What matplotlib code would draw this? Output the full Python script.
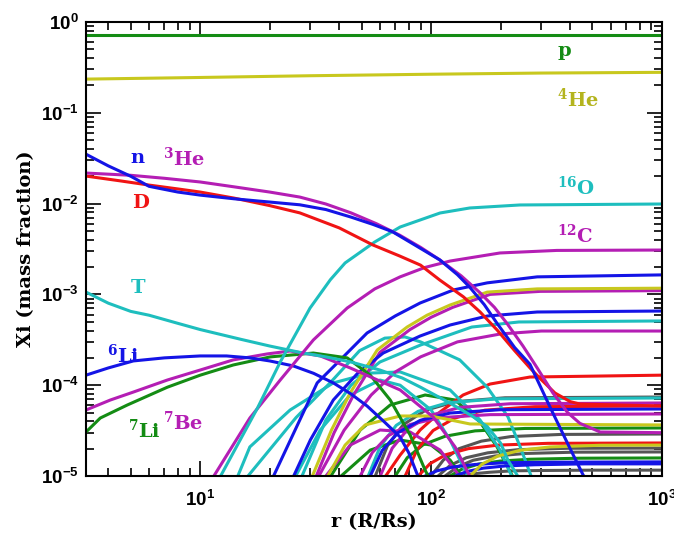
import math
import matplotlib
matplotlib.use("Agg")
import matplotlib.pyplot as plt
from matplotlib.ticker import LogLocator, FuncFormatter, NullFormatter

plt.rcParams["mathtext.fontset"] = "custom"
plt.rcParams["mathtext.rm"] = "DejaVu Serif:bold"
plt.rcParams["mathtext.bf"] = "DejaVu Serif:bold"
plt.rcParams["mathtext.sf"] = "Liberation Sans:bold"

BLUE = "#1414e6"
RED = "#f01414"
MAGENTA = "#b41eb4"
CYAN = "#1ebebe"
GREEN = "#148c14"
YELLOW = "#c8c81e"
GRAY = "#555555"

# ---- labelled species: radius r (R/Rs) and mass fraction X ----
r_p = [3.2, 30, 1000]
x_p = [0.72, 0.72, 0.72]

r_he4 = [3.2, 10, 30, 100, 300, 1000]
x_he4 = [0.235, 0.245, 0.256, 0.266, 0.274, 0.279]

r_n = [3.2, 4, 5, 6, 8, 10, 14, 20, 27, 35, 45, 56, 68, 85, 109, 130, 147,
       170, 193, 230, 268, 330, 400, 455, 500]
x_n = [0.035, 0.026, 0.020, 0.0155, 0.0134, 0.0124, 0.0113, 0.0104, 0.0097,
       0.0086, 0.0071, 0.0059, 0.0049, 0.0035, 0.0024, 0.00165, 0.0012,
       7.7e-4, 4.8e-4, 2.6e-4, 1.7e-4, 5.5e-5, 2.0e-5, 1.03e-5, 7e-6]

r_he3 = [3.2, 5, 7, 10, 14, 20, 27, 35, 45, 58, 73, 90, 109, 135, 163, 188,
         213, 250, 288, 337, 390, 441, 540, 1000]
x_he3 = [0.0217, 0.0205, 0.019, 0.0173, 0.0153, 0.0134, 0.0118, 0.0099,
         0.0079, 0.006, 0.0045, 0.0033, 0.0024, 0.0016, 0.00104, 7.2e-4,
         4.8e-4, 2.7e-4, 1.55e-4, 8.2e-5, 5e-5, 3.8e-5, 3.05e-5, 3.0e-5]

r_d = [3.2, 4.5, 6, 8, 10, 14, 20, 27, 40, 56, 73, 90, 109, 138, 163, 193,
       230, 268, 300, 344, 400, 441, 1000]
x_d = [0.0201, 0.0178, 0.016, 0.0145, 0.0134, 0.0115, 0.0095, 0.0079,
       0.0054, 0.0035, 0.00265, 0.0021, 0.00144, 9.4e-4, 6.4e-4, 4.06e-4,
       2.4e-4, 1.55e-4, 1.15e-4, 8.2e-5, 6.6e-5, 6.2e-5, 5.9e-5]

r_t = [3.2, 4, 5, 6, 8, 10, 15, 20, 27, 35, 45, 60, 75, 90, 120, 150, 175,
       200, 215, 240]
x_t = [1.06e-3, 8e-4, 6.5e-4, 5.9e-4, 4.8e-4, 4.1e-4, 3.2e-4, 2.7e-4,
       2.3e-4, 2.05e-4, 1.8e-4, 1.47e-4, 1.2e-4, 9.5e-5, 6.4e-5, 4.6e-5,
       3.5e-5, 2.3e-5, 1.5e-5, 9.5e-6]

r_li6 = [3.2, 4, 5.13, 7, 10, 13, 16.4, 20, 25.3, 31, 37.7, 45, 52.8, 63,
         73.4, 80, 87.9, 91.4]
x_li6 = [1.29e-4, 1.55e-4, 1.85e-4, 2.0e-4, 2.1e-4, 2.1e-4, 2.0e-4, 1.85e-4,
         1.63e-4, 1.35e-4, 1.06e-4, 8e-5, 5.9e-5, 3.9e-5, 2.69e-5, 1.8e-5,
         9.8e-6, 7.1e-6]

r_li7 = [3.2, 3.69, 4.83, 7.2, 10, 13.9, 20.1, 30.9, 43.3, 54.5, 66.5,
         81.1, 94.2, 100]
x_li7 = [3.05e-5, 4.35e-5, 6.05e-5, 9.5e-5, 1.29e-4, 1.67e-4, 2.05e-4,
         2.26e-4, 2.0e-4, 1.29e-4, 6.87e-5, 2.83e-5, 1.16e-5, 8.6e-6]

r_be7 = [3.2, 4.08, 5.13, 7.2, 10, 13.9, 19.5, 24.5, 33.1, 44.6, 73.4,
         102, 127, 147.4, 155]
x_be7 = [5.33e-5, 6.87e-5, 8.4e-5, 1.14e-4, 1.47e-4, 1.9e-4, 2.21e-4,
         2.38e-4, 2.1e-4, 1.55e-4, 8.86e-5, 4.47e-5, 2.09e-5, 9.8e-6, 7.1e-6]

r_o16 = [11.7, 12.2, 17.7, 22.2, 29.9, 36.6, 42.4, 57, 73.4, 109.3, 147,
         242.6, 1000]
x_o16 = [7.1e-6, 9.8e-6, 5.61e-5, 1.8e-4, 7.08e-4, 1.45e-3, 2.22e-3,
         3.78e-3, 5.52e-3, 7.88e-3, 8.95e-3, 9.66e-3, 9.9e-3]

r_c12 = [10.8, 11.4, 16.4, 22.2, 30.9, 43.3, 57, 73.4, 94, 120.8, 198.8,
         350, 1000]
x_c12 = [7.1e-6, 9.8e-6, 4.35e-5, 1.14e-4, 3.15e-4, 7.08e-4, 1.15e-3,
         1.56e-3, 1.98e-3, 2.33e-3, 2.86e-3, 3.05e-3, 3.08e-3]

# ---- further isotopes, grouped by line colour: (r, X) ----
blue_tracks = [
    ([19.7, 20.7, 32.1, 40, 52.8, 70, 89.6, 125, 175, 288, 1000],
     [7.1e-6, 9.8e-6, 1.06e-4, 1.85e-4, 3.76e-4, 5.8e-4, 8.04e-4, 1.12e-3,
      1.34e-3, 1.56e-3, 1.64e-3]),
    ([24.3, 25.3, 30, 37.7, 48, 62, 89.6, 120.8, 175, 288, 1000],
     [7.1e-6, 9.8e-6, 2.5e-5, 6.87e-5, 1.35e-4, 2.26e-4, 3.48e-4, 4.6e-4,
      5.78e-4, 6.4e-4, 6.56e-4]),
    ([51.8, 54.5, 61.4, 72, 89.7, 121, 199, 1000],
     [7.1e-6, 1.0e-5, 1.91e-5, 3.01e-5, 4.1e-5, 4.94e-5, 5.37e-5, 5.47e-5]),
    ([89.5, 94.2, 106, 125, 155, 209, 344, 1000],
     [7.1e-6, 1.0e-5, 1.14e-5, 1.26e-5, 1.34e-5, 1.40e-5, 1.42e-5, 1.43e-5]),
    ([121, 127, 143, 168, 209, 282, 464, 1000],
     [7.1e-6, 1.0e-5, 1.12e-5, 1.22e-5, 1.29e-5, 1.33e-5, 1.36e-5, 1.36e-5]),
]

yellow_tracks = [
    ([29.4, 30.5, 37, 44.6, 58.4, 78.7, 96, 120.8, 175, 288, 1000],
     [7.1e-6, 9.8e-6, 3.2e-5, 8.2e-5, 2.44e-4, 4.37e-4, 5.9e-4, 7.64e-4,
      1.06e-3, 1.15e-3, 1.17e-3]),
    ([33.7, 35.5, 42.4, 51.8, 73.4, 100, 147.4, 1000],
     [7.1e-6, 9.8e-6, 2.19e-5, 3.65e-5, 4.58e-5, 4.58e-5, 3.74e-5, 3.65e-5]),
    ([140, 147.5, 166, 195, 243, 327, 539, 1000],
     [7.1e-6, 1.0e-5, 1.35e-5, 1.66e-5, 1.92e-5, 2.09e-5, 2.18e-5, 2.19e-5]),
]

magenta_tracks = [
    ([30.3, 31.4, 38, 46, 60, 81, 100, 124, 180, 297, 1000],
     [6.7e-6, 9.2e-6, 3.0e-5, 7.7e-5, 2.3e-4, 4.1e-4, 5.6e-4, 7.2e-4,
      1.0e-3, 1.08e-3, 1.1e-3]),
    ([31, 32.5, 42, 55, 70, 90, 130, 200, 300, 1000],
     [7.1e-6, 9.8e-6, 3.2e-5, 7.8e-5, 1.4e-4, 2.05e-4, 3.0e-4, 3.67e-4,
      3.95e-4, 3.95e-4]),
    ([57.2, 60.2, 67.8, 79.6, 99.1, 133.5, 220, 1000],
     [7.1e-6, 1.0e-5, 2.02e-5, 3.33e-5, 4.65e-5, 5.7e-5, 6.25e-5, 6.37e-5]),
    ([46.8, 49.3, 55.6, 65.2, 81.1, 109, 180, 1000],
     [7.1e-6, 1.0e-5, 1.81e-5, 2.78e-5, 3.69e-5, 4.39e-5, 4.74e-5, 4.82e-5]),
    ([33.1, 34.8, 44.6, 60.1, 81.1, 109.3, 133.4, 137.6],
     [7.1e-6, 9.8e-6, 2.19e-5, 3.21e-5, 3.05e-5, 1.93e-5, 9.8e-6, 7.1e-6]),
]

cyan_tracks = [
    ([26, 27.5, 35, 45, 60, 90, 150, 240, 1000],
     [7.1e-6, 9.8e-6, 4.14e-5, 1.0e-4, 1.8e-4, 2.77e-4, 4.37e-4, 4.97e-4,
      5.1e-4]),
    ([50.7, 53.4, 60.2, 70.6, 87.9, 118, 195, 1000],
     [7.1e-6, 1.0e-5, 2.12e-5, 3.61e-5, 5.16e-5, 6.41e-5, 7.08e-5, 7.23e-5]),
    ([15.5, 16, 26, 37, 49, 63, 77, 90, 133, 175, 215, 243, 268, 280],
     [7e-6, 9.8e-6, 4.4e-5, 1.1e-4, 2.4e-4, 3.3e-4, 3.4e-4, 3.0e-4, 1.9e-4,
      9.5e-5, 4.5e-5, 2.1e-5, 1.08e-5, 8e-6]),
    ([13.8, 14.5, 16.4, 24.5, 37.7, 54.5, 73.4, 120.8, 162.9, 198.8, 224, 231],
     [7.1e-6, 9.8e-6, 2.09e-5, 5.33e-5, 1.06e-4, 1.36e-4, 1.4e-4, 8.86e-5,
      4.14e-5, 1.93e-5, 9.8e-6, 7.1e-6]),
    ([24.5, 25.8, 33.1, 44.6, 60.1, 73.4, 100, 120.8, 144.6, 150],
     [7.1e-6, 9.8e-6, 3.21e-5, 7.8e-5, 1.14e-4, 1.0e-4, 5.33e-5, 2.49e-5,
      9.8e-6, 7.1e-6]),
]

red_tracks = [
    ([60.1, 63.2, 73.4, 89.6, 109.3, 137.6, 180, 268, 1000],
     [7.1e-6, 9.8e-6, 1.7e-5, 3.21e-5, 5.07e-5, 7.8e-5, 1.03e-4, 1.23e-4,
      1.29e-4]),
    ([73.3, 77.2, 87, 102, 127, 171, 282, 1000],
     [7.1e-6, 1.0e-5, 1.96e-5, 3.17e-5, 4.36e-5, 5.31e-5, 5.8e-5, 5.9e-5]),
    ([83.5, 87.9, 99, 116, 145, 195, 321, 1000],
     [7.1e-6, 1.0e-5, 1.37e-5, 1.72e-5, 2.0e-5, 2.19e-5, 2.29e-5, 2.31e-5]),
]

green_tracks = [
    ([66.4, 69.9, 78.8, 92.4, 115, 155, 255, 1000],
     [7.1e-6, 1.0e-5, 1.59e-5, 2.21e-5, 2.74e-5, 3.14e-5, 3.34e-5, 3.38e-5]),
    ([115, 120.8, 136, 160, 199, 268, 441, 1000],
     [7.1e-6, 1.0e-5, 1.19e-5, 1.35e-5, 1.46e-5, 1.53e-5, 1.57e-5, 1.58e-5]),
    ([34.8, 36.6, 49.3, 66.5, 94.2, 127, 162.9, 193, 226, 235],
     [7.1e-6, 9.8e-6, 3.21e-5, 6.05e-5, 7.8e-5, 6.87e-5, 3.93e-5, 2.09e-5,
      9.8e-6, 7.1e-6]),
    ([38.4, 40.4, 54.5, 73.4, 100, 120.8, 136, 140.4],
     [7.1e-6, 9.8e-6, 1.93e-5, 2.49e-5, 2.19e-5, 1.5e-5, 9.8e-6, 7.1e-6]),
]

gray_tracks = [
    ([54.4, 57.3, 64.6, 75.7, 94.3, 127, 209, 1000],
     [7.1e-6, 1.0e-5, 2.14e-5, 3.67e-5, 5.28e-5, 6.58e-5, 7.27e-5, 7.41e-5]),
    ([95, 100, 113, 132, 165, 222, 365, 1000],
     [7.1e-6, 1.0e-5, 1.5e-5, 2.0e-5, 2.42e-5, 2.72e-5, 2.87e-5, 2.9e-5]),
    ([102, 107.2, 121, 142, 176, 238, 392, 1000],
     [7.1e-6, 1.0e-5, 1.31e-5, 1.59e-5, 1.8e-5, 1.95e-5, 2.02e-5, 2.03e-5]),
    ([109, 115, 130, 152, 189, 255, 420, 1000],
     [7.1e-6, 1.0e-5, 1.26e-5, 1.49e-5, 1.66e-5, 1.77e-5, 1.83e-5, 1.84e-5]),
    ([129, 136, 153, 180, 224, 302, 497, 1000],
     [7.1e-6, 1.0e-5, 1.06e-5, 1.10e-5, 1.14e-5, 1.15e-5, 1.16e-5, 1.16e-5]),
]

# species labels: (text, r, X, colour)
labels = [
    (r"$\mathrm{p}$", 351, 0.42, GREEN),
    (r"$\mathrm{{}^{4}He}$", 351, 0.116, "#b4b41e"),
    (r"$\mathrm{{}^{16}O}$", 351, 0.0125, CYAN),
    (r"$\mathrm{{}^{12}C}$", 351, 3.68e-3, MAGENTA),
    (r"$\mathrm{n}$", 4.98, 0.028, BLUE),
    (r"$\mathrm{{}^{3}He}$", 6.92, 0.026, MAGENTA),
    (r"$\mathrm{D}$", 5.08, 8.95e-3, RED),
    (r"$\mathrm{T}$", 4.98, 1.04e-3, CYAN),
    (r"$\mathrm{{}^{6}Li}$", 3.96, 1.76e-4, BLUE),
    (r"$\mathrm{{}^{7}Li}$", 4.88, 2.62e-5, GREEN),
    (r"$\mathrm{{}^{7}Be}$", 6.92, 3.21e-5, MAGENTA),
]

fig = plt.figure(figsize=(6.74, 5.35), dpi=100)
ax = fig.add_axes([86 / 674, 1 - 476 / 535, 576 / 674, 454 / 535])
ax.set_xscale("log")
ax.set_yscale("log")

LW = 2.2
for colour, group in [(GRAY, gray_tracks), (GREEN, green_tracks),
                      (RED, red_tracks), (CYAN, cyan_tracks),
                      (MAGENTA, magenta_tracks), (BLUE, blue_tracks),
                      (YELLOW, yellow_tracks)]:
    for r, x in group:
        ax.plot(r, x, color=colour, lw=LW, solid_joinstyle="round")

for r, x, c in [(r_li7, x_li7, GREEN), (r_be7, x_be7, MAGENTA),
                (r_li6, x_li6, BLUE), (r_t, x_t, CYAN),
                (r_c12, x_c12, MAGENTA), (r_o16, x_o16, CYAN),
                (r_d, x_d, RED), (r_he3, x_he3, MAGENTA), (r_n, x_n, BLUE),
                (r_he4, x_he4, YELLOW), (r_p, x_p, GREEN)]:
    ax.plot(r, x, color=c, lw=LW, solid_joinstyle="round")

for txt, r, x, c in labels:
    ax.text(r, x, txt, color=c, fontsize=14, ha="left", va="baseline")

ax.set_xlim(3.2, 1000)
ax.set_ylim(1e-5, 1)


def sci(v, pos):
    e = int(round(math.log10(v)))
    return r"$\mathsf{10^{%d}}$" % e


ax.xaxis.set_major_locator(LogLocator(base=10, numticks=10))
ax.yaxis.set_major_locator(LogLocator(base=10, numticks=10))
ax.xaxis.set_minor_locator(LogLocator(base=10, subs=range(2, 10), numticks=20))
ax.yaxis.set_minor_locator(LogLocator(base=10, subs=range(2, 10), numticks=20))
ax.xaxis.set_major_formatter(FuncFormatter(sci))
ax.yaxis.set_major_formatter(FuncFormatter(sci))
ax.xaxis.set_minor_formatter(NullFormatter())
ax.yaxis.set_minor_formatter(NullFormatter())

ax.tick_params(which="both", direction="in", top=True, right=True,
               width=1.2, labelsize=13.5, colors="black")
ax.tick_params(which="major", length=11)
ax.tick_params(which="minor", length=6)
ax.tick_params(axis="x", which="major", pad=10)
ax.tick_params(axis="y", which="major", pad=5)
for s in ax.spines.values():
    s.set_linewidth(1.5)

ax.set_xlabel("r (R/Rs)", fontsize=14, fontweight="bold",
              family="DejaVu Serif", labelpad=2)
ax.set_ylabel("Xi (mass fraction)", fontsize=14, fontweight="bold",
              family="DejaVu Serif", labelpad=4)

fig.savefig("out.png", dpi=100)
